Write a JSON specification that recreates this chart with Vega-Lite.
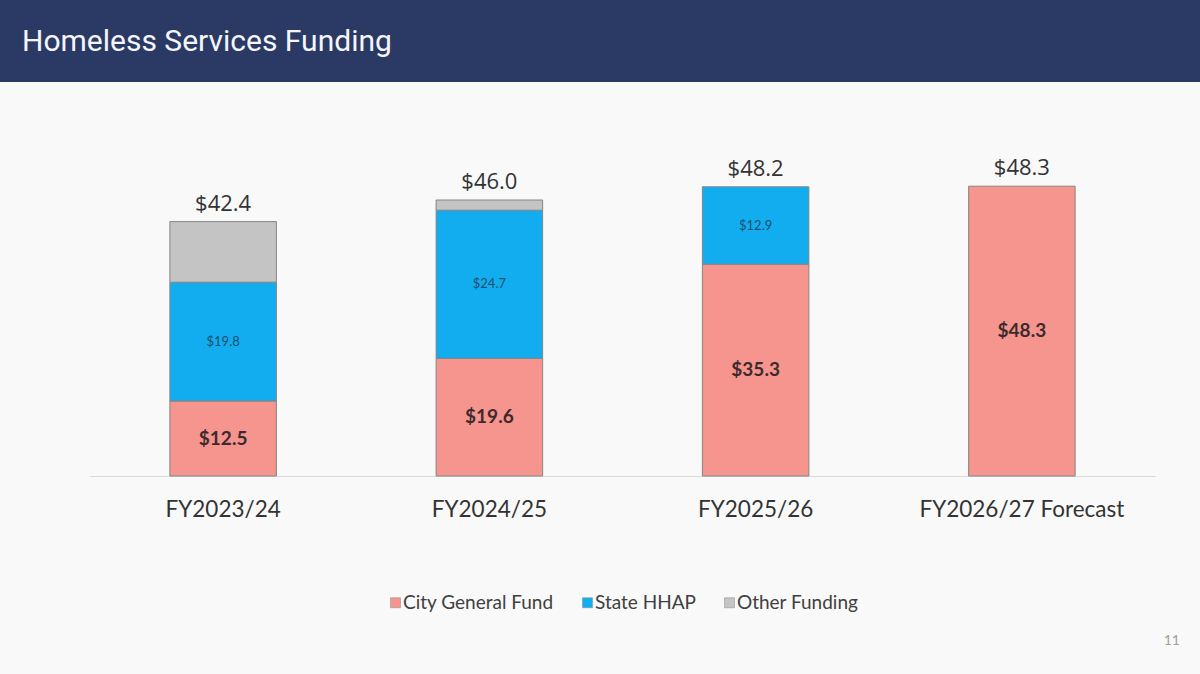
{
  "$schema": "https://vega.github.io/schema/vega-lite/v6.json",
  "background": "#f9f9f9",
  "padding": {"left": 0, "top": 0, "right": 0, "bottom": 28},
  "config": {
    "view": {"stroke": null},
    "font": "Lato"
  },
  "datasets": {
    "heading": [{"page": "Homeless Services Funding"}],
    "funding": [
      {"year": "FY2023/24", "source": "City General Fund", "tier": 1, "value": 12.5},
      {"year": "FY2023/24", "source": "State HHAP", "tier": 2, "value": 19.8},
      {"year": "FY2023/24", "source": "Other Funding", "tier": 3, "value": 10.1},
      {"year": "FY2024/25", "source": "City General Fund", "tier": 1, "value": 19.6},
      {"year": "FY2024/25", "source": "State HHAP", "tier": 2, "value": 24.7},
      {"year": "FY2024/25", "source": "Other Funding", "tier": 3, "value": 1.7},
      {"year": "FY2025/26", "source": "City General Fund", "tier": 1, "value": 35.3},
      {"year": "FY2025/26", "source": "State HHAP", "tier": 2, "value": 12.9},
      {"year": "FY2026/27 Forecast", "source": "City General Fund", "tier": 1, "value": 48.3}
    ]
  },
  "title": {
    "text": "11",
    "orient": "bottom",
    "anchor": "end",
    "dx": -20,
    "offset": 21,
    "font": "Lato",
    "fontSize": 14,
    "fontWeight": "normal",
    "color": "#a0a0a0"
  },
  "spacing": 34,
  "vconcat": [
    {
      "width": 1200,
      "height": 82,
      "data": {"name": "heading"},
      "view": {"fill": "#2a3a64", "stroke": null},
      "title": {
        "text": "Homeless Services Funding",
        "anchor": "start",
        "frame": "group",
        "offset": -57,
        "dx": 22,
        "font": "Roboto",
        "fontSize": 30,
        "fontWeight": "normal",
        "color": "#f4f6fb"
      },
      "mark": {"type": "rect", "fill": "#2a3a64"},
      "encoding": {}
    },
    {
      "width": 1200,
      "height": 360,
      "data": {"name": "funding"},
      "encoding": {
        "x": {
          "field": "year",
          "type": "nominal",
          "sort": ["FY2023/24", "FY2024/25", "FY2025/26", "FY2026/27 Forecast"],
          "scale": {"range": [90, 1155], "paddingInner": 0.6, "paddingOuter": 0.3},
          "axis": {
            "title": null,
            "labelAngle": 0,
            "ticks": false,
            "labelPadding": 22,
            "labelLimit": 400,
            "labelFont": "Lato",
            "labelFontSize": 22.5,
            "labelColor": "#333333",
            "domainColor": "#d9d9d9",
            "domainWidth": 1
          }
        }
      },
      "layer": [
        {
          "transform": [
            {"stack": "value", "groupby": ["year"], "sort": [{"field": "tier", "order": "ascending"}], "as": ["lo", "hi"]}
          ],
          "mark": {"type": "bar", "stroke": "#858585", "strokeWidth": 1},
          "encoding": {
            "y": {
              "field": "lo",
              "type": "quantitative",
              "scale": {"domain": [0, 60]},
              "axis": null
            },
            "y2": {"field": "hi"},
            "color": {
              "field": "source",
              "type": "nominal",
              "scale": {
                "domain": ["City General Fund", "State HHAP", "Other Funding"],
                "range": ["#f5958d", "#12adee", "#c4c4c4"]
              },
              "legend": {
                "title": null,
                "orient": "none",
                "legendX": 386,
                "legendY": 477,
                "direction": "horizontal",
                "symbolType": "square",
                "symbolSize": 100,
                "symbolStrokeColor": "#8a8a8a",
                "symbolStrokeWidth": 0.5,
                "labelFont": "Lato",
                "labelFontSize": 19,
                "labelColor": "#404040",
                "labelOffset": -2,
                "columnPadding": 24
              }
            }
          }
        },
        {
          "transform": [
            {"stack": "value", "groupby": ["year"], "sort": [{"field": "tier", "order": "ascending"}], "as": ["lo", "hi"]},
            {"filter": "datum.source === 'City General Fund'"},
            {"calculate": "(datum.lo + datum.hi) / 2", "as": "mid"}
          ],
          "mark": {"type": "text", "font": "Lato", "fontSize": 19, "fontWeight": "bold", "color": "#3e2a2e", "baseline": "middle"},
          "encoding": {
            "y": {"field": "mid", "type": "quantitative"},
            "text": {"field": "value", "type": "quantitative", "format": "$.1f"}
          }
        },
        {
          "transform": [
            {"stack": "value", "groupby": ["year"], "sort": [{"field": "tier", "order": "ascending"}], "as": ["lo", "hi"]},
            {"filter": "datum.source === 'State HHAP'"},
            {"calculate": "(datum.lo + datum.hi) / 2", "as": "mid"}
          ],
          "mark": {"type": "text", "font": "Lato", "fontSize": 13, "color": "#1c4f70", "baseline": "middle"},
          "encoding": {
            "y": {"field": "mid", "type": "quantitative"},
            "text": {"field": "value", "type": "quantitative", "format": "$.1f"}
          }
        },
        {
          "transform": [
            {"aggregate": [{"op": "sum", "field": "value", "as": "total"}], "groupby": ["year"]}
          ],
          "mark": {"type": "text", "font": "Open Sans", "fontSize": 22, "color": "#333333", "baseline": "bottom", "dy": -6},
          "encoding": {
            "y": {"field": "total", "type": "quantitative"},
            "text": {"field": "total", "type": "quantitative", "format": "$.1f"}
          }
        }
      ]
    }
  ],
  "resolve": {"legend": {"color": "independent"}}
}
